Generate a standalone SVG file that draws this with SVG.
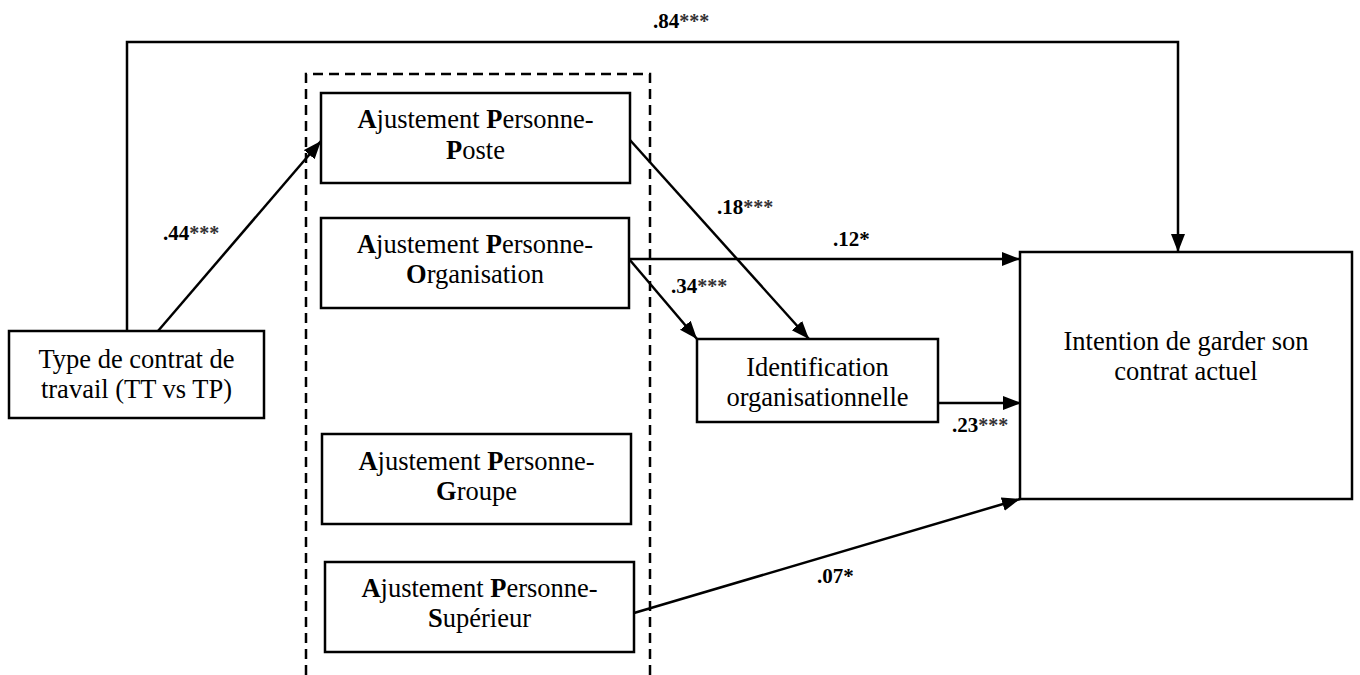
<svg xmlns="http://www.w3.org/2000/svg" width="1360" height="675" viewBox="0 0 1360 675">
<defs>
<marker id="arr" markerUnits="userSpaceOnUse" markerWidth="20" markerHeight="16" refX="18" refY="7" orient="auto">
<path d="M0,0 L18,7 L0,14 z" fill="#000"/>
</marker>
<style>
.box{fill:#fff;stroke:#000;stroke-width:2.5}
.t{font-family:"Liberation Serif","Times New Roman",serif;font-size:26.5px;fill:#000;text-anchor:middle}
.b{font-weight:bold}
.lab{font-family:"Liberation Serif","Times New Roman",serif;font-size:21px;font-weight:bold;fill:#000}
.ast{font-size:20px;fill:#333}
.c{fill:none;stroke:#000;stroke-width:2.5}
.dash{fill:none;stroke:#000;stroke-width:2.5;stroke-dasharray:10 6}
</style>
</defs>
<rect width="1360" height="675" fill="#fff"/>
<path class="dash" d="M306,675 V74 H650 V675"/>
<g id="connectors">
<path class="c" d="M127,331 V42 H1178 V252" marker-end="url(#arr)"/>
<path class="c" d="M158,331 L321,141" marker-end="url(#arr)"/>
<path class="c" d="M630,140 L809,339" marker-end="url(#arr)"/>
<path class="c" d="M629,259 H1020" marker-end="url(#arr)"/>
<path class="c" d="M629,259 L697,339" marker-end="url(#arr)"/>
<path class="c" d="M938,403 H1021" marker-end="url(#arr)"/>
<path class="c" d="M634,613 L1020,499" marker-end="url(#arr)"/>
<text class="lab" x="653" y="28">.84<tspan class="ast">***</tspan></text>
<text class="lab" x="163" y="240">.44<tspan class="ast">***</tspan></text>
<text class="lab" x="717" y="214">.18<tspan class="ast">***</tspan></text>
<text class="lab" x="833" y="246">.12*</text>
<text class="lab" x="671" y="293">.34<tspan class="ast">***</tspan></text>
<text class="lab" x="952" y="432">.23<tspan class="ast">***</tspan></text>
<text class="lab" x="817" y="583">.07*</text>
</g>
<g id="type-contrat">
<rect class="box" x="9" y="331" width="255" height="87"/>
<text class="t" x="136.5" y="368">Type de contrat de</text>
<text class="t" x="136.5" y="398">travail (TT vs TP)</text>
</g>
<g id="apposte">
<rect class="box" x="321" y="93" width="309" height="90"/>
<text class="t" x="475.5" y="128"><tspan class="b">A</tspan>justement <tspan class="b">P</tspan>ersonne-</text>
<text class="t" x="475.5" y="159"><tspan class="b">P</tspan>oste</text>
</g>
<g id="aporg">
<rect class="box" x="321" y="218" width="308" height="90"/>
<text class="t" x="475" y="253"><tspan class="b">A</tspan>justement <tspan class="b">P</tspan>ersonne-</text>
<text class="t" x="475" y="283"><tspan class="b">O</tspan>rganisation</text>
</g>
<g id="apgroupe">
<rect class="box" x="322" y="434" width="309" height="90"/>
<text class="t" x="476.5" y="470"><tspan class="b">A</tspan>justement <tspan class="b">P</tspan>ersonne-</text>
<text class="t" x="476.5" y="500"><tspan class="b">G</tspan>roupe</text>
</g>
<g id="apsup">
<rect class="box" x="325" y="562" width="309" height="90"/>
<text class="t" x="479.5" y="597"><tspan class="b">A</tspan>justement <tspan class="b">P</tspan>ersonne-</text>
<text class="t" x="479.5" y="627"><tspan class="b">S</tspan>upérieur</text>
</g>
<g id="identification">
<rect class="box" x="697" y="339" width="241" height="83"/>
<text class="t" x="817.5" y="376">Identification</text>
<text class="t" x="817.5" y="406">organisationnelle</text>
</g>
<g id="intention">
<rect class="box" x="1020" y="252" width="332" height="247"/>
<text class="t" x="1186" y="350">Intention de garder son</text>
<text class="t" x="1186" y="380">contrat actuel</text>
</g>
</svg>
